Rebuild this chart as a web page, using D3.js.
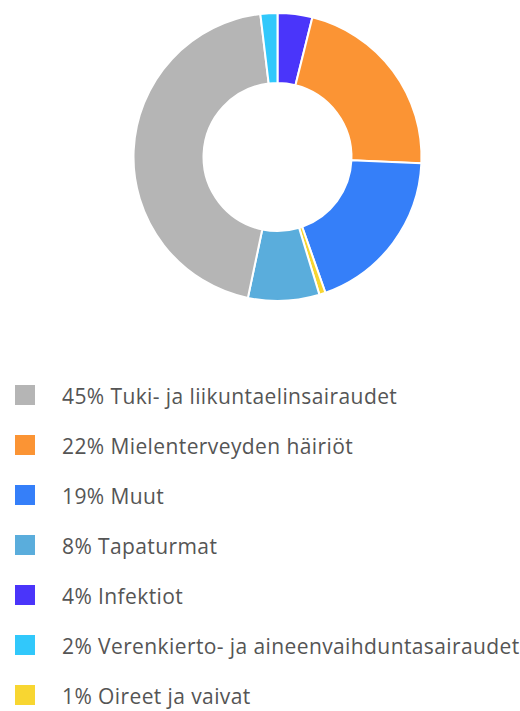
<!DOCTYPE html>
<html>
<head>
<meta charset="utf-8">
<script src="https://cdn.jsdelivr.net/npm/d3@7/dist/d3.min.js"></script>
<style>
body { margin: 0; background: #fff; }
</style>
</head>
<body>
<div id="chart-area"></div>
<script>
var width = 520;
var height = 711;

// slices in clockwise order from 12 o'clock
var pieLabels = ["Infektiot", "Mielenterveyden häiriöt", "Muut", "Oireet ja vaivat", "Tapaturmat", "Tuki- ja liikuntaelinsairaudet", "Verenkierto- ja aineenvaihduntasairaudet"];
var pieValues = [3.9, 21.8, 18.9, 0.7, 8.0, 44.8, 1.9];
var pieColors = ["#4a35fa", "#fb9434", "#357ff9", "#f8d631", "#5aaddc", "#b5b5b5", "#31c8fb"];

// legend order
var legendLabels = ["Tuki- ja liikuntaelinsairaudet", "Mielenterveyden häiriöt", "Muut", "Tapaturmat", "Infektiot", "Verenkierto- ja aineenvaihduntasairaudet", "Oireet ja vaivat"];

var cx = 277.5, cy = 157;
var outerR = 144, innerR = 74;

var svg = d3.select("#chart-area")
	.append("svg")
	.attr("width", width)
	.attr("height", height);

var color = d3.scaleOrdinal()
	.domain(pieLabels)
	.range(pieColors);

var valueOf = d3.scaleOrdinal()
	.domain(pieLabels)
	.range(pieValues);

var pie = d3.pie()
	.sort(null)
	.value((d) => { return valueOf(d); });

var arc = d3.arc()
	.innerRadius(innerR)
	.outerRadius(outerR);

var g = svg.append("g")
	.attr("transform", "translate(" + cx + "," + cy + ")");

g.selectAll("path")
	.data(pie(pieLabels))
	.enter()
	.append("path")
	.attr("d", arc)
	.attr("fill", (d) => { return color(d.data); })
	.attr("stroke", "#fff")
	.attr("stroke-width", 2);

var legendY = d3.scalePoint()
	.domain(legendLabels)
	.range([395, 695]);

var legend = svg.append("g");

legendLabels.forEach((c) => {
	var row = legend.append("g")
		.attr("transform", "translate(0," + legendY(c) + ")");

	row.append("rect")
		.attr("x", 15)
		.attr("y", -10)
		.attr("width", 20)
		.attr("height", 20)
		.attr("fill", color(c));

	row.append("text")
		.attr("x", 62)
		.attr("y", 9)
		.attr("font-family", "'Open Sans', sans-serif")
		.attr("font-size", "21px")
		.attr("letter-spacing", "0.4px")
		.attr("fill", "#555")
		.text(Math.round(valueOf(c)) + "% " + c);
});
</script>
</body>
</html>
